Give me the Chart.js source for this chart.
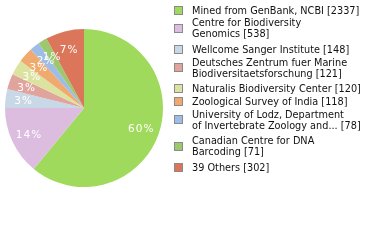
<!DOCTYPE html>
<html>
<head>
<meta charset="utf-8">
<script src="https://cdn.jsdelivr.net/npm/chart.js@4/dist/chart.umd.min.js"></script>
<style>
  html, body { margin: 0; padding: 0; background: #fff; }
  #wrap { position: relative; width: 380px; height: 240px; overflow: hidden; }
  #pieBox { position: absolute; left: 0; top: 0; width: 168px; height: 216px; }
  #legend { position: absolute; left: 0; top: 0; width: 380px; height: 240px; }
  .lbox { position: absolute; width: 7px; height: 7px; border: 1px solid #8a8a8a; box-sizing: content-box; }
  .ltxt { position: absolute; left: 192px; font-family: "DejaVu Sans Condensed", "DejaVu Sans", sans-serif; font-stretch: condensed; font-size: 10.8px; color: #111; white-space: nowrap; line-height: 11px; }
</style>
</head>
<body>
<div id="wrap">
  <div id="pieBox"><canvas id="c"></canvas></div>
  <div id="legend"></div>
</div>
<script>
const categories = [
  ["Mined from GenBank, NCBI [2337]"],
  ["Centre for Biodiversity", "Genomics [538]"],
  ["Wellcome Sanger Institute [148]"],
  ["Deutsches Zentrum fuer Marine", "Biodiversitaetsforschung [121]"],
  ["Naturalis Biodiversity Center [120]"],
  ["Zoological Survey of India [118]"],
  ["University of Lodz, Department", "of Invertebrate Zoology and... [78]"],
  ["Canadian Centre for DNA", "Barcoding [71]"],
  ["39 Others [302]"]
];
const values = [2337, 538, 148, 121, 120, 118, 78, 71, 302];
const colors = ["#a0da5c", "#dcbde0", "#c8d8e6", "#e0a49c", "#dce3a0", "#f0aa6e", "#9dbde6", "#9dc86e", "#dc765a"];

const total = values.reduce((a, b) => a + b, 0);

const pctLabels = {
  id: 'pctLabels',
  afterDatasetsDraw(chart) {
    const ctx = chart.ctx;
    const meta = chart.getDatasetMeta(0);
    ctx.save();
    ctx.fillStyle = '#ffffff';
    ctx.font = '10.5px "DejaVu Sans", sans-serif';
    ctx.letterSpacing = '1px';
    ctx.textAlign = 'center';
    ctx.textBaseline = 'middle';
    meta.data.forEach((arc, i) => {
      const p = arc.getProps(['x', 'y', 'startAngle', 'endAngle', 'outerRadius'], true);
      const mid = (p.startAngle + p.endAngle) / 2;
      const r = p.outerRadius * 0.77;
      const x = p.x + Math.cos(mid) * r;
      const y = p.y + Math.sin(mid) * r + 1;
      const pct = Math.floor(values[i] / total * 100) + '%';
      ctx.fillText(pct, x, y);
    });
    ctx.restore();
  }
};

new Chart(document.getElementById('c'), {
  type: 'pie',
  data: {
    labels: categories.map(c => c.join(' ')),
    datasets: [{ data: values, backgroundColor: colors, borderWidth: 0 }]
  },
  options: {
    responsive: true,
    maintainAspectRatio: false,
    animation: false,
    events: [],
    layout: { padding: 5 },
    plugins: { legend: { display: false }, tooltip: { enabled: false } }
  },
  plugins: [pctLabels]
});

// HTML legend
const legend = document.getElementById('legend');
let c = 10;
categories.forEach((lines, i) => {
  const mid = c + (lines.length - 1) * 11 / 2;
  const box = document.createElement('div');
  box.className = 'lbox';
  box.style.left = '174px';
  box.style.top = (mid - 4.5) + 'px';
  box.style.background = colors[i];
  legend.appendChild(box);
  lines.forEach((t, j) => {
    const d = document.createElement('div');
    d.className = 'ltxt';
    d.textContent = t;
    d.style.top = (c + j * 11 - 5.5) + 'px';
    legend.appendChild(d);
  });
  c += lines.length === 1 ? 12.6 : 26.8;
});
</script>
</body>
</html>
